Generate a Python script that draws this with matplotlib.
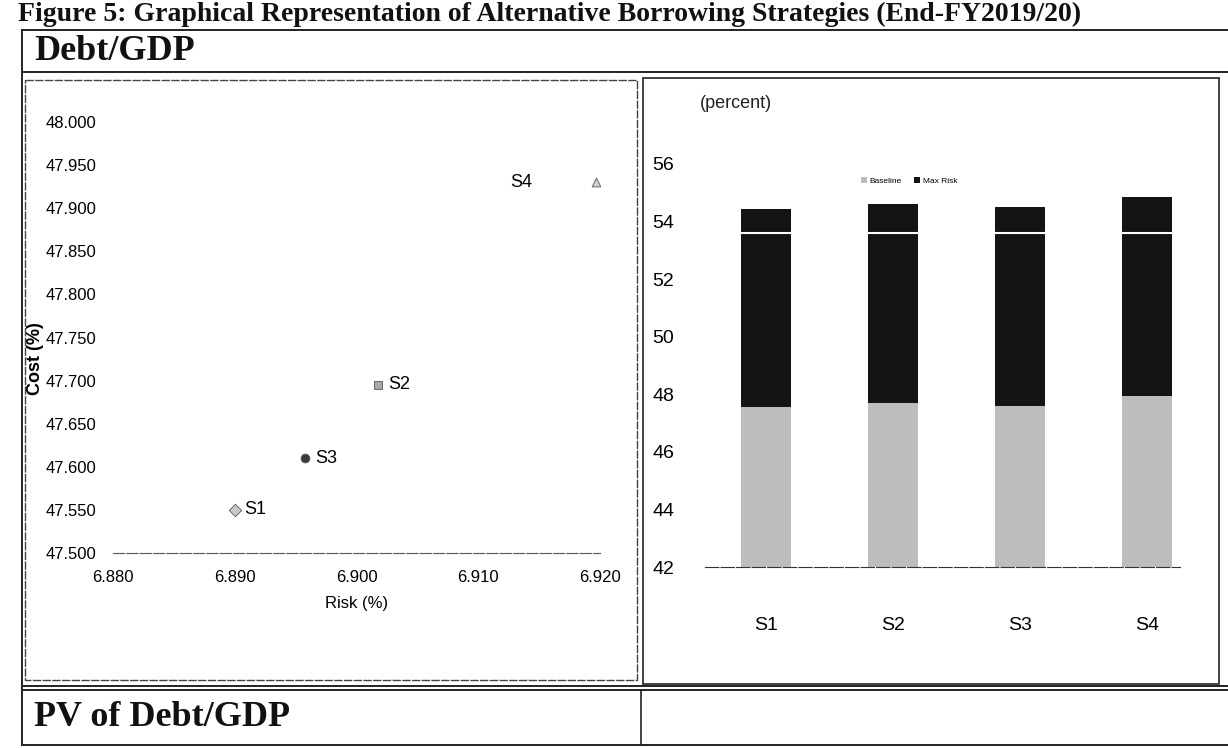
import numpy as np
import matplotlib.pyplot as plt
from matplotlib.patches import Rectangle

# strategies: cost (debt/GDP, %) and risk (%)
strategies = ["S1", "S2", "S3", "S4"]
risk = [6.890, 6.9018, 6.8958, 6.9197]
cost = [47.55, 47.695, 47.61, 47.93]
markers = ["D", "s", "o", "^"]
marker_colors = ["#c8c8c8", "#a8a8a8", "#3a3a3a", "#d0d0d0"]

W, H = 1228, 748
sans = ["Liberation Sans Narrow", "Liberation Sans", "DejaVu Sans"]
serif = ["Liberation Serif", "DejaVu Serif"]


def box(l, t, r, b):
    """pixel box -> figure fraction rect"""
    return [l / W, 1 - b / H, (r - l) / W, (b - t) / H]


fig = plt.figure(figsize=(W / 100, H / 100), dpi=100)

# page / table layer
bg = fig.add_axes([0, 0, 1, 1], zorder=0)
bg.set_xlim(0, W)
bg.set_ylim(H, 0)
bg.axis("off")

lc = "#222222"
for y in [30, 72, 686, 690, 745]:
    bg.plot([22, W], [y, y], color=lc, lw=1.4)
bg.plot([22, 22], [30, 745], color=lc, lw=1.4)
bg.plot([641, 641], [690, 745], color=lc, lw=1.2)
bg.add_patch(Rectangle((25, 80), 612, 600, fill=False, ec="#444444", lw=1.0, ls=(0, (6, 1))))
bg.add_patch(Rectangle((643, 78), 576, 606, fill=False, ec="#333333", lw=1.3))

bg.text(18, 21, "Figure 5: Graphical Representation of Alternative Borrowing Strategies (End-FY2019/20)",
        family=serif, fontweight="bold", fontsize=20, va="baseline", ha="left", color="#111111")
bg.text(34, 51, "Debt/GDP", family=serif, fontweight="bold", fontsize=26, va="center", color="#111111")
bg.text(34, 717, "PV of Debt/GDP", family=serif, fontweight="bold", fontsize=26, va="center", color="#111111")
bg.text(700, 103, "(percent)", family=sans, fontsize=13, va="center", color="#222222")

# cost-risk scatter
ax1 = fig.add_axes(box(113, 122, 600, 553), zorder=1)
ax1.patch.set_alpha(0)
for i, s in enumerate(strategies):
    ax1.scatter(risk[i], cost[i], marker=markers[i], s=40, color=marker_colors[i],
                edgecolor="#555555", linewidth=0.6, zorder=3)
    if s == "S4":
        ax1.annotate(s, (risk[i], cost[i]), xytext=(-62, 0), textcoords="offset points",
                     va="center", family=sans, fontsize=13)
    else:
        ax1.annotate(s, (risk[i], cost[i]), xytext=(7, 0), textcoords="offset points",
                     va="center", family=sans, fontsize=13)
ax1.set_xlim(6.880, 6.920)
ax1.set_ylim(47.5, 48.0)
ax1.set_xticks(np.arange(6.880, 6.9201, 0.010))
ax1.set_yticks(np.arange(47.5, 48.001, 0.05))
ax1.xaxis.set_major_formatter(plt.FormatStrFormatter("%.3f"))
ax1.yaxis.set_major_formatter(plt.FormatStrFormatter("%.3f"))
for side in ["left", "right", "top"]:
    ax1.spines[side].set_visible(False)
ax1.spines["bottom"].set_color("#555555")
ax1.spines["bottom"].set_linestyle((0, (10, 2)))
ax1.tick_params(length=0, labelsize=12, pad=12)
for lab in ax1.get_xticklabels() + ax1.get_yticklabels():
    lab.set_family(sans)
ax1.set_xlabel("Risk (%)", family=sans, fontsize=12, labelpad=8)
ax1.set_ylabel("Cost (%)", family=sans, fontsize=13, fontweight="bold")
ax1.yaxis.set_label_coords(-0.142, 0.45)

# stacked bars: baseline cost plus risk
ax2 = fig.add_axes(box(705, 164, 1180, 567), zorder=1)
ax2.patch.set_alpha(0)
x = np.arange(len(strategies))
base = np.array(cost) - 42
ax2.bar(x, base, 0.4, bottom=42, color="#bdbdbd", label="Baseline", zorder=2)
ax2.bar(x, risk, 0.4, bottom=cost, color="#141414", label="Max Risk", zorder=2)
ax2.axhline(53.6, color="white", lw=1.5, zorder=3)
ax2.set_xlim(-0.48, 3.26)
ax2.set_ylim(42, 56)
ax2.set_yticks(np.arange(42, 57, 2))
ax2.set_xticks(x)
ax2.set_xticklabels(strategies)
for side in ["left", "right", "top"]:
    ax2.spines[side].set_visible(False)
ax2.spines["bottom"].set_color("#333333")
ax2.spines["bottom"].set_linestyle((0, (12, 2)))
ax2.tick_params(length=0, labelsize=14)
ax2.tick_params(axis="y", pad=22)
ax2.tick_params(axis="x", pad=36)
for lab in ax2.get_xticklabels() + ax2.get_yticklabels():
    lab.set_family(sans)
ax2.legend(loc="center", bbox_to_anchor=(0.43, 0.958), ncol=2, frameon=False,
           prop={"family": sans, "size": 6}, handlelength=0.7, handleheight=0.7,
           columnspacing=1.5, handletextpad=0.3)

fig.savefig("out.png", dpi=100)
